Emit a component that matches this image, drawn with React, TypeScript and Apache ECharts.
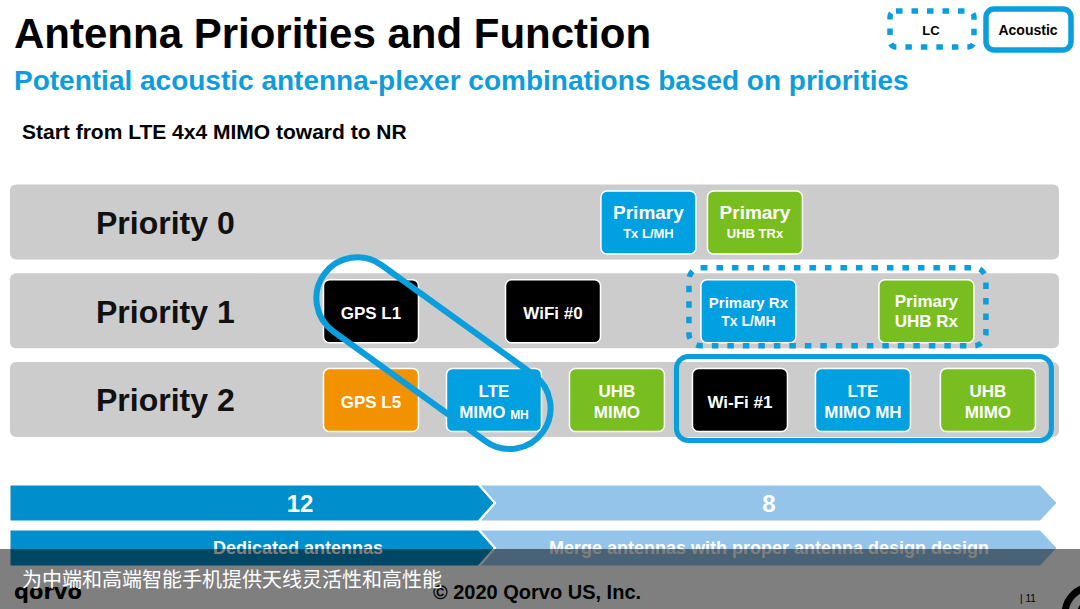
import React, { useEffect, useRef } from 'react';
import * as echarts from 'echarts';

const FONT = '"Liberation Sans", Arial, Helvetica, sans-serif';
const CJK = '"Noto Sans CJK SC", "Noto Sans CJK TC", sans-serif';

// ---- texts ----
const title = 'Antenna Priorities and Function';
const subtitle = 'Potential acoustic antenna-plexer combinations based on priorities';
const intro = 'Start from LTE 4x4 MIMO toward to NR';
const legendLabels = ['LC', 'Acoustic'];
const priorities = ['Priority 0', 'Priority 1', 'Priority 2'];

// ---- boxes (row = priority index, slot = column position) ----
const boxNames = [
  'Primary Tx L/MH', 'Primary UHB TRx',
  'GPS L1', 'WiFi #0', 'Primary Rx Tx L/MH', 'Primary UHB Rx',
  'GPS L5', 'LTE MIMO MH', 'UHB MIMO', 'Wi-Fi #1', 'LTE MIMO MH', 'UHB MIMO',
];
const boxRows = [0, 0, 1, 1, 1, 1, 2, 2, 2, 2, 2, 2];
const boxSlots = [2.256, 3.122, 0, 1.48, 3.069, 4.516, 0, 1, 2, 3, 4, 5.016];
const boxKinds = ['blue', 'green', 'black', 'black', 'blue', 'green', 'orange', 'blue', 'green', 'black', 'blue', 'green'];
const boxTexts = [
  '{a|Primary}\n{c|Tx L/MH}',
  '{a|Primary}\n{c|UHB TRx}',
  '{b|GPS L1}',
  '{b|WiFi #0}',
  '{m|Primary Rx}\n{m2|Tx L/MH}',
  '{u|Primary}\n{u|UHB Rx}',
  '{b|GPS L5}',
  '{b|LTE}\n{b|MIMO }{s|MH}',
  '{b|UHB}\n{b|MIMO}',
  '{b|Wi-Fi #1}',
  '{b|LTE}\n{b|MIMO MH}',
  '{b|UHB}\n{b|MIMO}',
];

// ---- groupings ----
const groupRows = [1, 2];
const groupFrom = [3.069, 3];
const groupTo = [4.516, 5.016];
const groupStyles = ['dotted', 'solid'];
const linkFrom = [0, 1]; // [slot, row]
const linkTo = [1, 2];

// ---- bottom arrows / footer ----
const arrowValues = ['12', '8'];
const arrowCaptions = ['Dedicated antennas', 'Merge antennas with proper antenna design design'];
const footerText = '\u00A9 2020 Qorvo US, Inc.';
const pageNo = '| 11';
const brand = 'qorvo';
const caption = '为中端和高端智能手机提供天线灵活性和高性能';

const COLORS: Record<string, string> = {
  blue: '#00A0E1',
  green: '#78BE20',
  black: '#000000',
  orange: '#F39200',
};
const OUTLINE = '#0A9EDC';

const BOX_W = 95;
const BOX_H = 63;

export default function App() {
  const ref = useRef<HTMLDivElement>(null);

  useEffect(() => {
    if (!ref.current) return;
    const chart = echarts.init(ref.current, undefined, { renderer: 'svg' });

    const rich = {
      a: { fontSize: 19, fontWeight: 'bold', fontFamily: FONT, lineHeight: 22 },
      c: { fontSize: 13, fontWeight: 'bold', fontFamily: FONT, lineHeight: 20 },
      b: { fontSize: 17, fontWeight: 'bold', fontFamily: FONT, lineHeight: 21, verticalAlign: 'bottom' },
      s: { fontSize: 12, fontWeight: 'bold', fontFamily: FONT, lineHeight: 21, verticalAlign: 'bottom' },
      m: { fontSize: 15, fontWeight: 'bold', fontFamily: FONT, lineHeight: 19 },
      m2: { fontSize: 14, fontWeight: 'bold', fontFamily: FONT, lineHeight: 19 },
      u: { fontSize: 17, fontWeight: 'bold', fontFamily: FONT, lineHeight: 20 },
    };

    const txt = (text: string, x: number, y: number, size: number, color: string, opts: any = {}) => ({
      type: 'text',
      z: opts.z ?? 10,
      style: {
        text,
        x,
        y,
        fill: color,
        fontSize: size,
        fontWeight: opts.weight ?? 'bold',
        fontFamily: opts.family ?? FONT,
        textAlign: opts.align ?? 'left',
        textVerticalAlign: 'middle',
      },
    });

    const graphics: any[] = [
      txt(title, 14, 33, 42, '#000'),
      txt(subtitle, 14, 80, 28, '#0D9DDB'),
      txt(intro, 22, 131, 21, '#000'),
      {
        type: 'rect', z: 10,
        shape: { x: 890, y: 11, width: 84, height: 36, r: 6 },
        style: { fill: 'none', stroke: OUTLINE, lineWidth: 5.5, lineDash: [6.5, 9] },
      },
      txt(legendLabels[0], 931, 30, 13, '#000', { align: 'center' }),
      {
        type: 'rect', z: 10,
        shape: { x: 986, y: 9, width: 85, height: 41, r: 8 },
        style: { fill: '#fff', stroke: OUTLINE, lineWidth: 5.5 },
      },
      txt(legendLabels[1], 1028, 30, 14, '#000', { align: 'center' }),
      // arrows row 1
      {
        type: 'polygon', z: 10,
        shape: { points: [[480, 485], [1040, 485], [1057, 503], [1040, 521], [480, 521], [496, 503]] },
        style: { fill: '#95C4EB', stroke: '#fff', lineWidth: 1 },
      },
      {
        type: 'polygon', z: 10,
        shape: { points: [[10, 485], [478, 485], [494, 503], [478, 521], [10, 521]] },
        style: { fill: '#008FCD', stroke: '#fff', lineWidth: 1 },
      },
      txt(arrowValues[0], 300, 503, 24, '#fff', { align: 'center' }),
      txt(arrowValues[1], 769, 503, 24, '#fff', { align: 'center' }),
      // arrows row 2
      {
        type: 'polygon', z: 10,
        shape: { points: [[480, 530], [1040, 530], [1057, 548], [1040, 566], [480, 566], [496, 548]] },
        style: { fill: '#95C4EB', stroke: '#fff', lineWidth: 1 },
      },
      {
        type: 'polygon', z: 10,
        shape: { points: [[10, 530], [478, 530], [494, 548], [478, 566], [10, 566]] },
        style: { fill: '#008FCD', stroke: '#fff', lineWidth: 1 },
      },
      txt(arrowCaptions[0], 298, 548, 18, '#fff', { align: 'center' }),
      txt(arrowCaptions[1], 769, 548, 18, '#fff', { align: 'center' }),
      // footer
      txt(brand, 14, 592, 21, '#000', { family: '"DejaVu Sans", sans-serif' }),
      txt(footerText, 537, 592, 20, '#000', { align: 'center' }),
      txt(pageNo, 1020, 598, 10, '#000', { weight: 'normal' }),
      {
        type: 'arc', z: 10,
        shape: { cx: 1092, cy: 614, r: 27, startAngle: Math.PI, endAngle: Math.PI * 1.5 },
        style: { stroke: '#000', lineWidth: 7, fill: 'none' },
      },
      {
        type: 'arc', z: 10,
        shape: { cx: 1092, cy: 614, r: 12, startAngle: Math.PI, endAngle: Math.PI * 1.5 },
        style: { stroke: '#000', lineWidth: 6, fill: 'none' },
      },
      // overlay band
      {
        type: 'rect', z: 100,
        shape: { x: 0, y: 549, width: 1080, height: 60 },
        style: { fill: 'rgba(0,0,0,0.5)' },
      },
      txt(caption, 22, 578, 20, '#fff', { z: 101, weight: 'normal', family: CJK }),
    ];

    chart.setOption({
      animation: false,
      backgroundColor: '#ffffff',
      grid: { left: 10, right: 21, top: 177.6, height: 266.25 },
      xAxis: { type: 'value', min: -2.935, max: 5.594, show: false },
      yAxis: { type: 'category', data: priorities, inverse: true, show: false },
      graphic: { elements: graphics },
      series: [
        {
          type: 'custom',
          name: 'rows',
          coordinateSystem: 'cartesian2d',
          data: priorities.map((_, i) => [0, i]),
          renderItem: (params: any, api: any) => {
            const cs = params.coordSys;
            const y = api.coord([0, api.value(1)])[1];
            return {
              type: 'group',
              children: [
                {
                  type: 'rect',
                  shape: { x: cs.x, y: y - 37.5, width: cs.width, height: 75, r: 6 },
                  style: { fill: '#CCCCCC' },
                },
                {
                  type: 'text',
                  style: {
                    text: priorities[params.dataIndex],
                    x: cs.x + 86,
                    y: y + 1,
                    fill: '#111',
                    fontSize: 32,
                    fontWeight: 'bold',
                    fontFamily: FONT,
                    textAlign: 'left',
                    textVerticalAlign: 'middle',
                  },
                },
              ],
            };
          },
        },
        {
          type: 'custom',
          name: 'boxes',
          coordinateSystem: 'cartesian2d',
          data: boxSlots.map((s, i) => ({ name: boxNames[i], value: [s, boxRows[i]] })),
          renderItem: (params: any, api: any) => {
            const p = api.coord([api.value(0), api.value(1)]);
            const i = params.dataIndex;
            return {
              type: 'group',
              children: [
                {
                  type: 'rect',
                  shape: { x: p[0] - BOX_W / 2, y: p[1] - BOX_H / 2 + 0.5, width: BOX_W, height: BOX_H, r: 6 },
                  style: { fill: COLORS[boxKinds[i]], stroke: '#fff', lineWidth: 1.5 },
                },
                {
                  type: 'text',
                  style: {
                    text: boxTexts[i],
                    rich,
                    x: p[0],
                    y: p[1] + 1,
                    fill: '#fff',
                    textAlign: 'center',
                    textVerticalAlign: 'middle',
                  },
                },
              ],
            };
          },
        },
        {
          type: 'custom',
          name: 'groups',
          coordinateSystem: 'cartesian2d',
          data: groupFrom.map((f, i) => [f, groupRows[i], groupTo[i]]),
          renderItem: (params: any, api: any) => {
            const p1 = api.coord([api.value(0), api.value(1)]);
            const p2 = api.coord([api.value(2), api.value(1)]);
            const dotted = groupStyles[params.dataIndex] === 'dotted';
            const padX = dotted ? 12 : 16;
            const h = dotted ? 78 : 84;
            const cy = p1[1] + (dotted ? -4 : -1);
            return {
              type: 'rect',
              shape: {
                x: p1[0] - BOX_W / 2 - padX,
                y: cy - h / 2,
                width: p2[0] - p1[0] + BOX_W + padX * 2,
                height: h,
                r: 12,
              },
              style: dotted
                ? { fill: 'none', stroke: OUTLINE, lineWidth: 5.5, lineDash: [6.5, 9] }
                : { fill: 'none', stroke: OUTLINE, lineWidth: 5 },
            };
          },
        },
        {
          type: 'custom',
          name: 'link',
          coordinateSystem: 'cartesian2d',
          data: [[linkFrom[0], linkFrom[1], linkTo[0], linkTo[1]]],
          renderItem: (params: any, api: any) => {
            const a = api.coord([api.value(0), api.value(1)]);
            const b = api.coord([api.value(2), api.value(3)]);
            const dx = b[0] - a[0];
            const dy = b[1] - a[1];
            const len = Math.sqrt(dx * dx + dy * dy) + 36;
            const R = 41;
            return {
              type: 'rect',
              x: (a[0] + b[0]) / 2 + 1,
              y: (a[1] + b[1]) / 2 - 2,
              rotation: -Math.atan2(dy, dx),
              shape: { x: -(len / 2 + R), y: -R, width: len + 2 * R, height: 2 * R, r: R },
              style: { fill: 'none', stroke: OUTLINE, lineWidth: 6 },
            };
          },
        },
      ],
    });

    return () => chart.dispose();
  }, []);

  return (
    <div
      ref={ref}
      style={{ position: 'fixed', left: 0, top: 0, width: 1080, height: 609, background: '#fff' }}
    />
  );
}
